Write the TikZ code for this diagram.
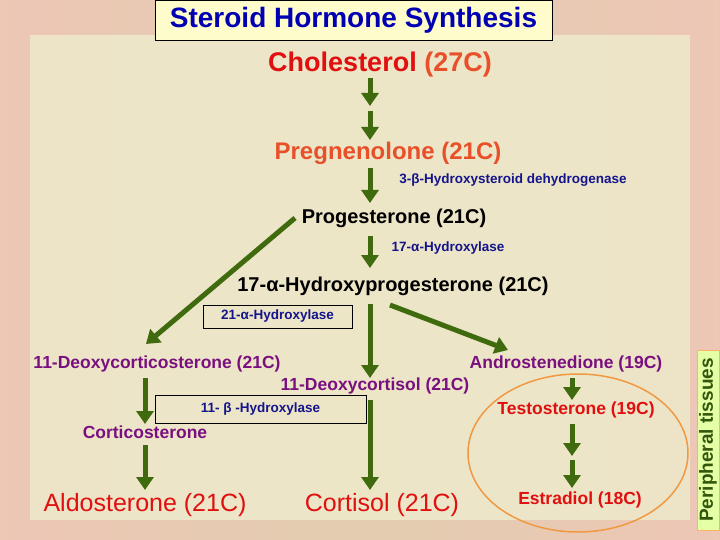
\documentclass[tikz,border=0pt]{standalone}
\usepackage{fontspec}
\setmainfont{Liberation Sans}
\begin{document}
\begin{tikzpicture}[x=1pt,y=-1pt,
  ar/.style={draw=arrgreen,line width=5pt,-{Triangle[length=13pt,width=17pt]}},
  enz/.style={text=navy,font=\bfseries\fontsize{13.5}{15}\selectfont,inner sep=1pt},
  pur/.style={text=purp,font=\bfseries\fontsize{17.5}{20}\selectfont,inner sep=1pt},
  blk/.style={text=black,font=\bfseries\fontsize{20}{24}\selectfont,inner sep=1pt},
  big/.style={text=bigred,font=\fontsize{25}{30}\selectfont,inner sep=1pt},
  redb/.style={text=bigred,font=\bfseries\fontsize{17.5}{20}\selectfont,inner sep=1pt}]
\usetikzlibrary{arrows.meta}
\definecolor{arrgreen}{HTML}{3F6B0E}
\definecolor{navy}{HTML}{14148C}
\definecolor{purp}{HTML}{7A1080}
\definecolor{bigred}{HTML}{E01010}
\definecolor{oran}{HTML}{E8502A}
\definecolor{bgout}{HTML}{E2CDB0}
\definecolor{bgin}{HTML}{EEEACB}
\useasboundingbox (0,0) rectangle (720,540);
\shade[left color=bgout!85!red!70,right color=bgout!85!red!70,middle color=bgout] (0,0) rectangle (720,540);
\fill[bgin,opacity=0.85] (30,35) rectangle (690,520);
\node[draw=black,fill=yellow!20,minimum width=397pt,minimum height=40pt,text=blue!70!black,font=\bfseries\fontsize{28}{32}\selectfont,inner sep=0] (title) at (353.5,20) {Steroid Hormone Synthesis};
\node[font=\bfseries\fontsize{27}{30}\selectfont,inner sep=1pt] (chol) at (380,65) {\textcolor{bigred}{Cholesterol} \textcolor{oran}{(27C)}};
\coordinate (a1) at (370,78); \coordinate (a1e) at (370,106);
\coordinate (a2) at (370,111); \coordinate (a2e) at (370,140);
\draw[ar] (a1) -- (a1e); \draw[ar] (a2) -- (a2e);
\node[text=oran,font=\bfseries\fontsize{24}{28}\selectfont,inner sep=1pt] (preg) at (388,153) {Pregnenolone (21C)};
\node[enz] (hsd) at (513,180) {3-β-Hydroxysteroid dehydrogenase};
\node[blk] (prog) at (394,218) {Progesterone (21C)};
\draw[ar] (370,168) -- (370,203);
\node[enz] (h17) at (448,248) {17-α-Hydroxylase};
\node[blk] (ohp) at (393,286) {17-α-Hydroxyprogesterone (21C)};
\draw[ar] (370,236) -- (370,268);
\node[draw=black,minimum width=149pt,minimum height=23pt,inner sep=0] (h21) at (277.5,316.5) {};
\node[enz] at (h21) {21-α-Hydroxylase};
\node[pur] (doc) at (157,364) {11-Deoxycorticosterone (21C)};
\node[pur] (andro) at (566,364) {Androstenedione (19C)};
\node[pur] (dcort) at (375,386) {11-Deoxycortisol (21C)};
\draw[ar] (295,218) -- (146,344);
\draw[ar] (370,304) -- (370,378);
\draw[ar] (390,305) -- (508,350);
\node[draw=black,minimum width=211pt,minimum height=28pt,inner sep=0] (h11) at (260.5,409) {};
\node[enz] at (h11) {11- β -Hydroxylase};
\node[pur] (cortico) at (145,432) {Corticosterone};
\draw[ar] (145,378) -- (145,424);
\draw[ar] (145,445) -- (145,490);
\node[big] (aldo) at (145,505) {Aldosterone (21C)};
\node[big] (cortisol) at (382,505) {Cortisol (21C)};
\draw[ar] (370,400) -- (370,490);
\draw[draw=orange!70!brown!80,line width=1.5pt] (578,453) ellipse [x radius=110pt,y radius=79pt];
\node[redb] (testo) at (576,410) {Testosterone (19C)};
\node[redb] (estra) at (580,500) {Estradiol (18C)};
\draw[ar] (572,378) -- (572,400);
\draw[ar] (572,424) -- (572,456);
\draw[ar] (572,460) -- (572,488);
\node[draw=orange!60,fill=green!30!yellow!35,minimum width=180pt,minimum height=22pt,rotate=90,text=arrgreen!80!black,font=\bfseries\fontsize{19}{22}\selectfont,inner sep=0] (peri) at (708,440) {Peripheral tissues};
\end{tikzpicture}
\end{document}
